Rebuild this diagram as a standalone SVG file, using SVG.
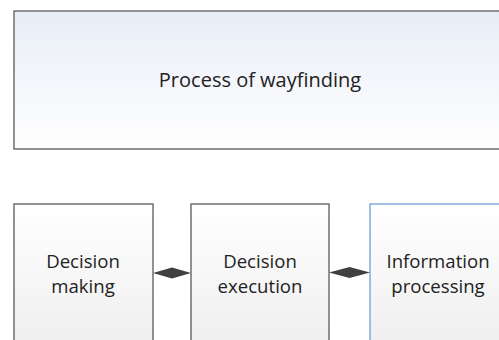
<svg xmlns="http://www.w3.org/2000/svg" width="499" height="340" viewBox="0 0 499 340">
  <defs>
    <linearGradient id="topFill" x1="0" y1="0" x2="0" y2="1">
      <stop offset="0" stop-color="#e8edf6"/>
      <stop offset="1" stop-color="#ffffff"/>
    </linearGradient>
    <linearGradient id="boxFill" x1="0" y1="0" x2="0" y2="1">
      <stop offset="0" stop-color="#ffffff"/>
      <stop offset="1" stop-color="#eeeeee"/>
    </linearGradient>
  </defs>
  <style>
    .box { fill: url(#boxFill); stroke: #595959; stroke-width: 1.3; }
    .label { font-family: "Open Sans", "Liberation Sans", sans-serif; font-size: 18.6px; fill: #222222; text-anchor: middle; }
    .title { font-size: 20px; }
    .link { fill: #404040; stroke: none; }
  </style>
  <rect width="499" height="340" fill="#ffffff"/>

  <g id="wayfinding">
    <rect x="14" y="11" width="500" height="138" fill="url(#topFill)" stroke="#595959" stroke-width="1.3"/>
    <text class="label title" x="260" y="87">Process of wayfinding</text>
  </g>

  <g id="decision-making">
    <rect class="box" x="14" y="204" width="139" height="150"/>
    <text class="label" x="83" y="268">Decision</text>
    <text class="label" x="83" y="293">making</text>
  </g>

  <g id="decision-execution">
    <rect class="box" x="191" y="204" width="138" height="150"/>
    <text class="label" x="260" y="268">Decision</text>
    <text class="label" x="260" y="293">execution</text>
  </g>

  <g id="information-processing">
    <rect x="370" y="204" width="140" height="150" fill="url(#boxFill)" stroke="#6f9fd6" stroke-width="1.3"/>
    <text class="label" x="438" y="268">Information</text>
    <text class="label" x="438" y="293">processing</text>
  </g>

  <g id="connectors">
    <path class="link" d="M153 273 L172 267.5 L191 273 L172 278.5 Z"/>
    <path class="link" d="M329 272.5 L349.5 267 L370 272.5 L349.5 278 Z"/>
  </g>
</svg>
